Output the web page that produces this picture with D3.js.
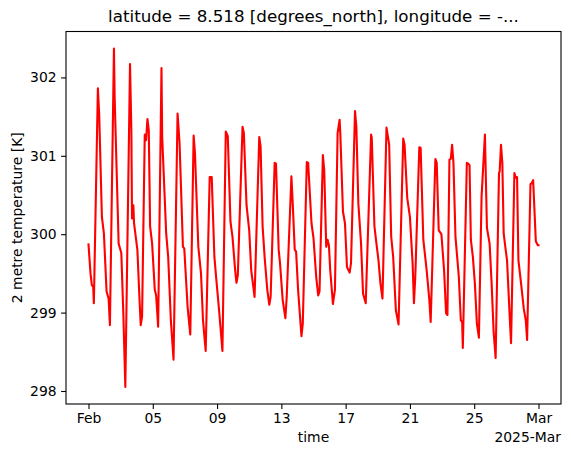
<!DOCTYPE html>
<html>
<head>
<meta charset="utf-8">
<script src="https://cdn.jsdelivr.net/npm/d3@7"></script>
<style>
  body { margin: 0; background: #fff; }
  svg { display: block; font-family: "DejaVu Sans", sans-serif; }
</style>
</head>
<body>
<div id="chart"></div>
<script>
// hours after 2025-02-01 00:00 UTC
const hours = [0, 3, 5, 7, 8, 14, 16, 20, 23, 27, 30, 32, 38, 39, 45, 49, 52, 55,
  62, 64, 65, 67, 68, 73, 76, 78, 80, 84, 86, 88, 90, 92, 95, 99, 101, 104,
  109, 110, 116, 119, 123, 127, 133, 136, 141, 143, 148, 152, 157, 159, 164, 168,
  171, 175, 181, 184, 188, 191, 195, 200, 205, 208, 212, 215, 219, 221, 223, 230,
  232, 236, 240, 243, 248, 255, 257, 260, 263, 267, 270, 272, 278, 280, 284, 286,
  290, 294, 296, 303, 305, 308, 310, 313, 318, 320, 326, 328, 333, 336, 340, 343,
  345, 350, 352, 355, 357, 359, 361, 365, 368, 372, 375, 376, 380, 383, 386, 390,
  392, 398, 400, 403, 407, 410, 414, 422, 423, 427, 430, 433, 436, 439, 445, 448,
  449, 452, 455, 459, 463, 470, 472, 476, 480, 484, 486, 488, 494, 496, 500, 505,
  509, 511, 518, 520, 523, 527, 531, 534, 536, 539, 541, 543, 545, 548, 553, 556,
  558, 559, 565, 567, 569, 571, 574, 577, 580, 583, 587, 592, 595, 599, 602, 605,
  608, 613, 614, 616, 618, 620, 623, 625, 629, 631, 636, 638, 640, 642, 646, 650,
  653, 655, 660, 662, 664, 668, 671, 672];

// 2 metre temperature [K]
const temps = [299.87, 299.50, 299.35, 299.33, 299.12, 301.86, 301.52, 300.22, 300.01, 299.27, 299.18, 298.84,
  302.37, 301.76, 299.88, 299.76, 298.99, 298.05,
  302.17, 301.33, 300.20, 300.37, 300.14, 299.80, 299.20, 298.84, 298.95,
  301.27, 301.20, 301.47, 301.33, 300.10, 299.88, 299.29, 299.22, 298.82,
  302.12, 301.25, 300.01, 299.71, 298.90, 298.40,
  301.54, 301.16, 299.84, 299.82, 299.07, 298.72,
  301.26, 301.03, 299.84, 299.50, 298.90, 298.51,
  300.73, 300.73, 299.71, 299.41, 299.03, 298.51,
  301.31, 301.25, 300.16, 299.97, 299.54, 299.38, 299.48,
  301.37, 301.29, 300.37, 300.05, 299.54, 299.20,
  301.24, 301.12, 300.10, 299.71, 299.29, 299.10, 299.20,
  300.91, 300.90, 299.80, 299.63, 299.16, 298.93, 299.20,
  300.74, 300.39, 299.80, 299.78, 299.29, 298.70, 298.86,
  300.92, 300.91, 300.14, 299.95, 299.46, 299.22, 299.27,
  301.01, 300.82, 299.84, 299.93, 299.86, 299.54, 299.11, 299.29,
  301.29, 301.46, 301.29, 300.29, 300.14, 299.58, 299.51, 299.63,
  301.57, 301.37, 300.39, 299.88, 299.24, 299.12,
  301.27, 301.23, 300.10, 299.88, 299.67, 299.37, 299.18,
  301.36, 301.20, 301.14, 299.97, 299.71, 299.03, 298.85,
  301.22, 301.14, 300.46, 300.22, 299.63, 299.12, 299.46,
  301.11, 301.10, 299.93, 299.54, 299.16, 298.88,
  300.96, 300.91, 300.05, 300.00, 299.54, 298.99, 298.97,
  300.95, 300.96, 301.14, 300.91, 299.97, 299.46, 298.90, 298.88, 298.55,
  300.91, 300.90, 300.88, 299.93, 299.71, 299.37, 298.86, 298.68,
  300.48, 301.27, 300.08, 299.88, 299.37, 298.75, 298.42,
  300.78, 300.80, 301.14, 300.91, 300.01, 299.80, 299.67, 298.95, 298.61,
  300.78, 300.72, 300.73, 299.67, 299.37, 299.05, 298.90, 298.65,
  300.64, 300.65, 300.69, 299.91, 299.86, 299.86];

const xTickDates = ["2025-02-01", "2025-02-05", "2025-02-09", "2025-02-13",
  "2025-02-17", "2025-02-21", "2025-02-25", "2025-03-01"];
const xTickLabels = ["Feb", "05", "09", "13", "17", "21", "25", "Mar"];
const yTicks = [298, 299, 300, 301, 302];

const W = 571, H = 455;
const M = { LEFT: 66, RIGHT: 10, TOP: 31.5, BOTTOM: 51 };
const IW = W - M.LEFT - M.RIGHT;
const IH = H - M.TOP - M.BOTTOM;

const start = Date.UTC(2025, 1, 1);
const data = hours.map((h, i) => ({ t: new Date(start + h * 3600e3), v: temps[i] }));

const svg = d3.select("#chart").append("svg")
  .attr("width", W)
  .attr("height", H);

const g = svg.append("g")
  .attr("transform", `translate(${M.LEFT}, ${M.TOP})`);

// matplotlib-like 5% margins around the data
const tExt = d3.extent(data, d => +d.t);
const tPad = (tExt[1] - tExt[0]) * 0.05;
const vExt = d3.extent(data, d => d.v);
const vPad = (vExt[1] - vExt[0]) * 0.05;

const x = d3.scaleUtc()
  .domain([new Date(tExt[0] - tPad), new Date(tExt[1] + tPad)])
  .range([0, IW]);

const y = d3.scaleLinear()
  .domain([vExt[0] - vPad, vExt[1] + vPad])
  .range([IH, 0]);

const xAxis = d3.axisBottom(x)
  .tickValues(xTickDates.map(s => new Date(s + "T00:00:00Z")))
  .tickFormat((d, i) => xTickLabels[i])
  .tickSizeInner(4.9)
  .tickSizeOuter(0)
  .tickPadding(4);

const yAxis = d3.axisLeft(y)
  .tickValues(yTicks)
  .tickFormat(d3.format("d"))
  .tickSizeInner(4.9)
  .tickSizeOuter(0)
  .tickPadding(4.5);

const xg = g.append("g")
  .attr("transform", `translate(0, ${IH})`)
  .call(xAxis);
const yg = g.append("g").call(yAxis);

[xg, yg].forEach(a => {
  a.select(".domain").remove();
  a.selectAll(".tick line").attr("stroke", "#000").attr("stroke-width", 1.1);
  a.selectAll(".tick text")
    .attr("fill", "#000")
    .attr("font-size", "13.9px")
    .attr("font-family", "DejaVu Sans, sans-serif");
});

// the temperature line
g.append("path")
  .datum(data)
  .attr("fill", "none")
  .attr("stroke", "#ff0000")
  .attr("stroke-width", 2.1)
  .attr("stroke-linejoin", "round")
  .attr("stroke-linecap", "square")
  .attr("d", d3.line().x(d => x(d.t)).y(d => y(d.v)));

// frame
g.append("rect")
  .attr("width", IW)
  .attr("height", IH)
  .attr("fill", "none")
  .attr("stroke", "#000")
  .attr("stroke-width", 1.1);

// title
g.append("text")
  .attr("x", IW / 2)
  .attr("y", -9.5)
  .attr("text-anchor", "middle")
  .attr("font-size", "16.7px")
  .attr("fill", "#000")
  .text("latitude = 8.518 [degrees_north], longitude = -...");

// x label
g.append("text")
  .attr("x", IW / 2)
  .attr("y", IH + 38)
  .attr("text-anchor", "middle")
  .attr("font-size", "13.9px")
  .attr("fill", "#000")
  .text("time");

// offset text
g.append("text")
  .attr("x", IW)
  .attr("y", IH + 38)
  .attr("text-anchor", "end")
  .attr("font-size", "13.9px")
  .attr("fill", "#000")
  .text("2025-Mar");

// y label
g.append("text")
  .attr("transform", `translate(${-M.LEFT + 22}, ${IH / 2}) rotate(-90)`)
  .attr("text-anchor", "middle")
  .attr("font-size", "13.9px")
  .attr("fill", "#000")
  .text("2 metre temperature [K]");
</script>
</body>
</html>
